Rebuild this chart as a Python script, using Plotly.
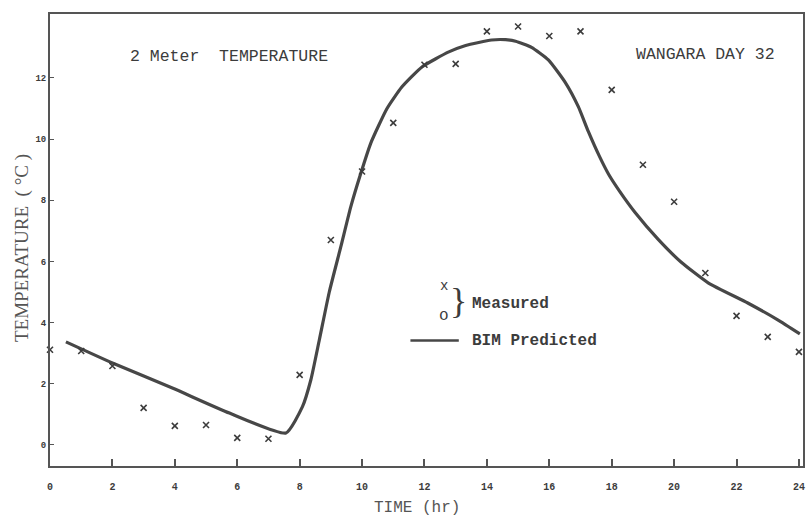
import plotly.graph_objects as go

# Measured 2 m temperature (hourly)
meas_hour = list(range(0, 25))
meas_temp = [3.11, 3.07, 2.58, 1.21, 0.62, 0.65, 0.23, 0.20, 2.29, 6.70,
             8.94, 10.53, 12.43, 12.46, 13.52, 13.68, 13.37, 13.52, 11.61,
             9.16, 7.95, 5.62, 4.22, 3.53, 3.04]

# BIM predicted curve
pred_hour = [0.51, 2.02, 3.94, 5.75, 7.56, 8.09, 8.36, 8.63, 8.95, 9.32, 9.64,
             9.96, 10.28, 10.80, 11.28, 11.92, 12.78, 13.32, 14.15, 14.6,
             14.92, 15.43, 15.97, 16.52, 16.93, 17.25, 17.6, 17.9, 18.25,
             18.75, 19.49, 20.22, 21.09, 22.36, 23.32, 24.03]
pred_temp = [3.37, 2.67, 1.85, 1.04, 0.39, 1.25, 2.13, 3.43, 5.0, 6.48, 7.79,
             8.88, 9.87, 11.0, 11.71, 12.36, 12.85, 13.06, 13.24, 13.25,
             13.2, 13.0, 12.59, 11.84, 11.06, 10.25, 9.45, 8.85, 8.3,
             7.6, 6.72, 5.98, 5.30, 4.64, 4.09, 3.63]

x_ticks = list(range(0, 25, 2))
y_ticks = list(range(0, 13, 2))

INK = "#3c3c3c"
MONO = "Liberation Mono, DejaVu Sans Mono, monospace"
SERIF = "Liberation Serif, DejaVu Serif, serif"

fig = go.Figure()
fig.add_trace(go.Scatter(x=pred_hour, y=pred_temp, mode="lines",
                         line=dict(color="#474747", width=3.2, shape="spline", smoothing=0.5),
                         showlegend=False, hoverinfo="skip"))
fig.add_trace(go.Scatter(x=meas_hour, y=meas_temp, mode="markers",
                         marker=dict(symbol="x-thin", size=6, line=dict(color=INK, width=1.6)),
                         showlegend=False, cliponaxis=False))

fig.update_layout(
    width=809, height=519,
    margin=dict(l=50, r=4, t=14, b=53),
    paper_bgcolor="white", plot_bgcolor="white",
    font=dict(family=MONO, color=INK),
    xaxis=dict(range=[0, 24.13], tickvals=x_ticks, ticktext=[str(v) for v in x_ticks],
               ticks="inside", ticklen=7, tickwidth=1.5, tickcolor="#555",
               ticklabelstandoff=10,
               showgrid=False, zeroline=False, showline=True, linecolor="#555",
               linewidth=2, mirror=True,
               tickfont=dict(family=MONO, size=10, color=INK, weight="bold")),
    yaxis=dict(range=[-0.69, 14.09], tickvals=y_ticks, ticktext=[str(v) for v in y_ticks],
               ticks="inside", ticklen=4, tickwidth=1.2, tickcolor="#555",
               showgrid=False, zeroline=False, showline=True, linecolor="#555",
               linewidth=2, mirror=True,
               tickfont=dict(family=MONO, size=9, color=INK, weight="bold")),
)

# axis titles
fig.add_annotation(xref="paper", yref="paper", x=(418 - 50) / 755, y=-(508 - 466) / 452,
                   text="TIME (hr)", showarrow=False, yanchor="middle",
                   font=dict(family=MONO, size=16, color="#555"))
fig.add_annotation(xref="paper", yref="paper", x=-(50 - 22) / 755, y=(466 - 248) / 452,
                   text="TEMPERATURE  ( °C )", showarrow=False, textangle=-90,
                   xanchor="center", yanchor="middle",
                   font=dict(family=SERIF, size=19, color="#555"))

fig.add_annotation(xref="x", yref="y", x=5.75, y=12.7, text="2 Meter  TEMPERATURE",
                   showarrow=False, font=dict(family=MONO, size=16.5, color=INK))
fig.add_annotation(xref="x", yref="y", x=21.0, y=12.75, text="WANGARA DAY 32",
                   showarrow=False, font=dict(family=MONO, size=16.5, color=INK))

# legend
fig.add_annotation(xref="x", yref="y", x=12.62, y=5.2, text="x", showarrow=False,
                   font=dict(family=MONO, size=14, color=INK))
fig.add_annotation(xref="x", yref="y", x=12.62, y=4.2, text="o", showarrow=False,
                   font=dict(family=MONO, size=16, color=INK))
fig.add_annotation(xref="x", yref="y", x=13.1, y=4.72, text="}", showarrow=False,
                   font=dict(family=SERIF, size=36, color=INK))
fig.add_annotation(xref="x", yref="y", x=13.45, y=4.62, text="<b>Measured</b>", showarrow=False,
                   xanchor="left", font=dict(family=MONO, size=16, color=INK))
fig.add_shape(type="line", xref="x", yref="y", x0=11.55, x1=13.1, y0=3.41, y1=3.41,
              line=dict(color="#474747", width=2.5))
fig.add_annotation(xref="x", yref="y", x=13.45, y=3.41, text="<b>BIM Predicted</b>", showarrow=False,
                   xanchor="left", font=dict(family=MONO, size=16, color=INK))

fig.write_html("out.html")
